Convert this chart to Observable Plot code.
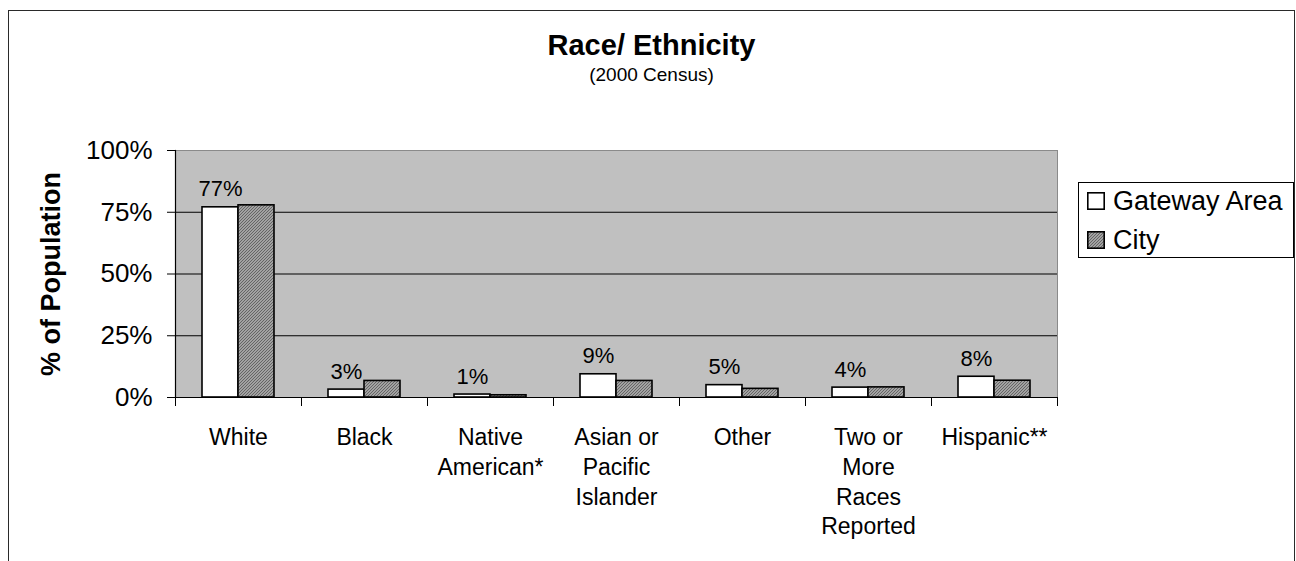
<!DOCTYPE html>
<html>
<head>
<meta charset="utf-8">
<script src="https://cdn.jsdelivr.net/npm/d3@7"></script>
<script src="https://cdn.jsdelivr.net/npm/@observablehq/plot@0.6"></script>
<style>
  body { margin: 0; background: #fff; font-family: "Liberation Sans", Arial, sans-serif; color: #000; }
  #wrap { position: relative; width: 1296px; height: 561px; overflow: hidden; background: #fff; }
  #chart { position: absolute; left: 0; top: 0; }
  #box { position: absolute; left: 8px; top: 10px; width: 1285px; height: 640px; border: 1.5px solid #2a2a2a; border-bottom: none; pointer-events: none; }
  #title { position: absolute; left: 8px; width: 1287px; top: 31px; text-align: center; font-weight: bold; font-size: 29px; line-height: 29px; }
  #subtitle { position: absolute; left: 8px; width: 1287px; top: 65px; text-align: center; font-size: 19px; line-height: 19px; }
  #legend { position: absolute; left: 1078px; top: 182px; width: 214px; height: 74px; border: 1px solid #000; background: #fff; }
  .item { position: absolute; left: 8px; height: 26px; display: flex; align-items: center; font-size: 27px; line-height: 26px; white-space: nowrap; }
  .item svg { margin-right: 8px; display: block; }
  #chart g[aria-label="y-axis label"] text { font-weight: bold; font-size: 27px; }
</style>
</head>
<body>
<div id="wrap">
  <div id="box"></div>
  <div id="title">Race/ Ethnicity</div>
  <div id="subtitle">(2000 Census)</div>
  <div id="legend"></div>
</div>
<script>
// ---- data ----
const categories = ["White", "Black", "Native\nAmerican*", "Asian or\nPacific\nIslander", "Other", "Two or\nMore\nRaces\nReported", "Hispanic**"];
const series = ["Gateway Area", "City"];
const gatewayValues = [0.77, 0.032, 0.012, 0.094, 0.05, 0.04, 0.084];
const cityValues = [0.778, 0.067, 0.009, 0.067, 0.035, 0.041, 0.068];
const yTicks = [0, 0.25, 0.5, 0.75, 1];

const fmt = d3.format(".0%");
const gatewayRows = categories.map((c, i) => ({category: c, series: series[0], value: gatewayValues[i]}));
const cityRows = categories.map((c, i) => ({category: c, series: series[1], value: cityValues[i]}));

const marginTop = 150, marginBottom = 164, H = 561;
const innerH = H - marginTop - marginBottom;

const chart = Plot.plot({
  width: 1296,
  height: H,
  marginTop,
  marginLeft: 173,
  marginRight: 237,
  marginBottom,
  style: {background: "transparent", fontFamily: "Liberation Sans, Arial, sans-serif", color: "#000", overflow: "visible"},
  fx: {domain: categories, padding: 0, label: null},
  x: {domain: series, paddingInner: 0, paddingOuter: 0.73, axis: null},
  y: {domain: [0, 1], axis: null},
  marks: [
    Plot.frame({fill: "#c0c0c0", stroke: "#8a8a8a", facet: "super"}),
    Plot.gridY(yTicks.slice(1, 4), {stroke: "#000", strokeOpacity: 1}),
    Plot.barY(gatewayRows, {fx: "category", x: "series", y: "value", fill: "#fff", stroke: "#000", strokeWidth: 1.6}),
    Plot.barY(cityRows, {fx: "category", x: "series", y: "value", fill: "url(#cityHatch)", stroke: "#000", strokeWidth: 1.6}),
    Plot.ruleY([0], {stroke: "#000", strokeWidth: 1.2}),
    Plot.frame({anchor: "left", stroke: "#000", strokeWidth: 1.2, facet: "super"}),
    Plot.frame({anchor: "left", stroke: "#000", insetTop: innerH, insetBottom: -8}),
    Plot.frame({anchor: "right", stroke: "#000", insetTop: innerH, insetBottom: -8}),
    Plot.text(gatewayRows, {fx: "category", x: "series", y: "value", text: d => fmt(d.value), dy: -18, fontSize: 22, fill: "#000"}),
    Plot.axisY({ticks: yTicks, tickFormat: fmt, tickSize: 8, tickPadding: 15, fontSize: 26, stroke: "#000",
      label: "% of Population", labelAnchor: "center", labelArrow: "none", labelOffset: 135}),
    Plot.axisFx({anchor: "bottom", tickSize: 0, tickPadding: 26, fontSize: 23, lineHeight: 1.3, label: null})
  ]
});
chart.id = "chart";

// hatch pattern for City bars
const defs = d3.select(chart).insert("defs", ":first-child");
const pat = defs.append("pattern").attr("id", "cityHatch").attr("patternUnits", "userSpaceOnUse").attr("width", 3).attr("height", 3);
pat.append("rect").attr("width", 3).attr("height", 3).attr("fill", "#a2a2a2");
pat.append("path").attr("d", "M0,3L3,0M-1,1L1,-1M2,4L4,2").attr("stroke", "#5e5e5e").attr("stroke-width", 0.9);

const wrap = document.getElementById("wrap");
wrap.insertBefore(chart, wrap.firstChild);

// legend
const legend = document.getElementById("legend");
const swatchFill = ["#fff", "url(#cityHatch)"];
const itemTops = [5, 44];
series.forEach((s, i) => {
  const item = document.createElement("div");
  item.className = "item";
  item.style.top = itemTops[i] + "px";
  item.innerHTML = `<svg width="18" height="18"><rect x="0.8" y="0.8" width="16.4" height="16.4" fill="${swatchFill[i]}" stroke="#000" stroke-width="1.6"></rect></svg><span>${s}</span>`;
  legend.appendChild(item);
});
</script>
</body>
</html>
